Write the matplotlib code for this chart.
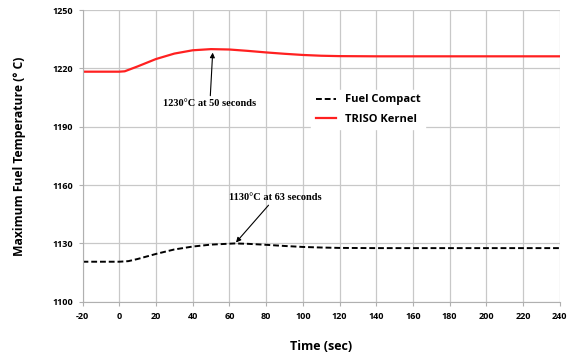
import matplotlib.pyplot as plt

plt.rcParams["axes.unicode_minus"] = False

# time axis (sec) and max temperatures (deg C)
t_kernel = [-20, 0, 3, 10, 20, 30, 40, 50, 60, 70, 80, 90, 100, 110, 120, 140, 160, 180, 200, 220, 240]
kernel = [1218.3, 1218.3, 1218.5, 1221.0, 1224.8, 1227.6, 1229.3, 1229.9, 1229.7, 1229.0, 1228.2,
          1227.5, 1226.9, 1226.5, 1226.3, 1226.2, 1226.2, 1226.2, 1226.2, 1226.2, 1226.2]

t_compact = [-20, 0, 5, 10, 20, 30, 40, 50, 63, 70, 80, 90, 100, 110, 120, 140, 160, 180, 200, 220, 240]
compact = [1120.6, 1120.6, 1120.9, 1122.0, 1124.6, 1126.9, 1128.4, 1129.4, 1130.0, 1129.8, 1129.3,
           1128.7, 1128.2, 1127.9, 1127.7, 1127.6, 1127.6, 1127.6, 1127.6, 1127.6, 1127.6]

xticks = list(range(-20, 241, 20))
yticks = [1100, 1130, 1160, 1190, 1220, 1250]

fig = plt.figure(figsize=(5.73, 3.58), dpi=100)
ax = fig.add_axes([0.144, 0.157, 0.833, 0.815])

ax.plot(t_compact, compact, color="black", linestyle=(0, (3, 1.5)), linewidth=1.4, label="Fuel Compact")
ax.plot(t_kernel, kernel, color="#ff2020", linewidth=1.6, label="TRISO Kernel")

ax.set_xlim(-20, 240)
ax.set_ylim(1100, 1250)
ax.set_xticks(xticks)
ax.set_yticks(yticks)
ax.grid(True, color="#c8c8c8", linewidth=0.9)
ax.set_axisbelow(True)
for s in ["top", "right"]:
    ax.spines[s].set_visible(False)
for s in ["left", "bottom"]:
    ax.spines[s].set_color("#b0b0b0")
ax.tick_params(length=3, color="#b0b0b0", labelsize=6.5, pad=4)
for lab in ax.get_xticklabels() + ax.get_yticklabels():
    lab.set_fontweight("bold")
    lab.set_family("Open Sans")

ax.set_xlabel("Time (sec)", fontsize=9, fontweight="bold", family="Open Sans", labelpad=14)
ax.set_ylabel("Maximum Fuel Temperature (° C)", fontsize=8.7, fontweight="bold", family="Open Sans", labelpad=19)

ann = dict(fontsize=7.5, fontweight="bold", family="Liberation Serif", ha="center", va="center",
           arrowprops=dict(arrowstyle="-|>", color="black", lw=0.8, mutation_scale=7, shrinkA=0, shrinkB=0))
ax.annotate("1230°C at 50 seconds", xy=(50.9, 1228.1), xytext=(49.4, 1202.2), **ann)
ax.annotate("1130°C at 63 seconds", xy=(63.6, 1130.5), xytext=(84.8, 1153.4), **ann)

leg = ax.legend(loc="upper left", bbox_to_anchor=(0.468, 0.745), frameon=True, fancybox=False,
                edgecolor="white", framealpha=1, handlelength=1.8, borderpad=0.4, labelspacing=0.75,
                prop={"family": "Open Sans", "weight": "bold", "size": 8})

fig.savefig("out.png", dpi=100)
